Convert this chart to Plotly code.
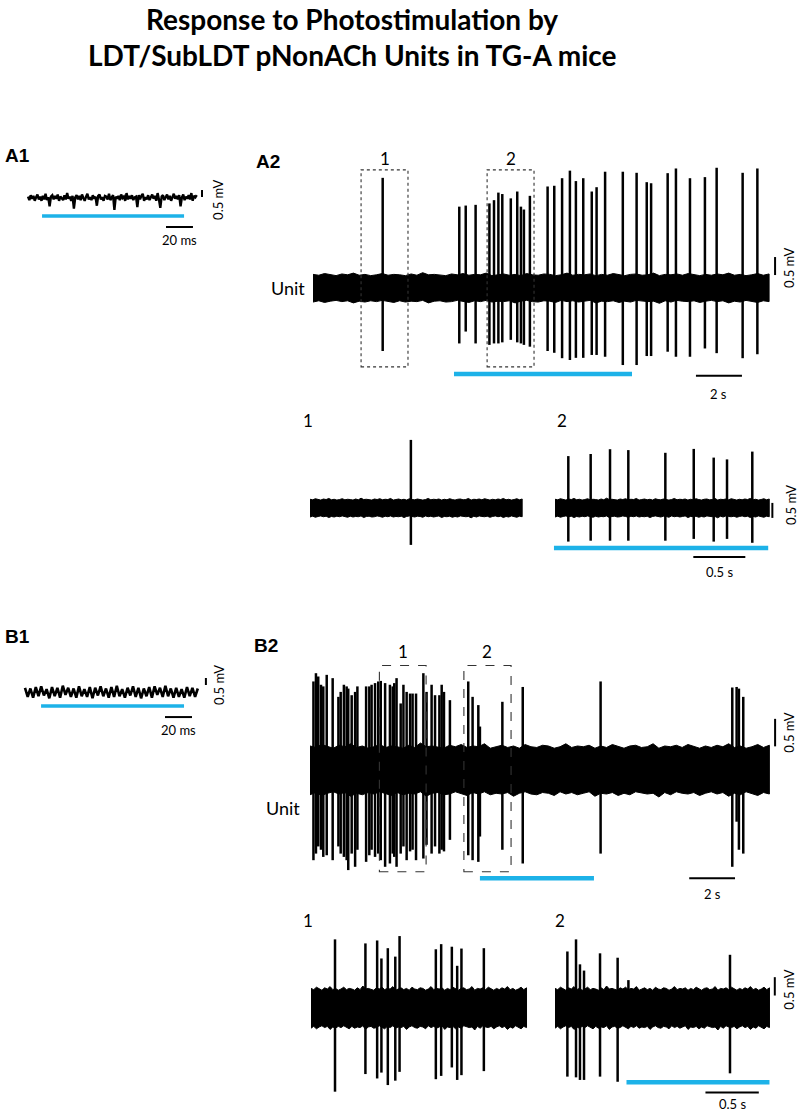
import plotly.graph_objects as go
import numpy as np

W, H = 800, 1114
BLUE = "#1db2e8"
FONT = "Lato"

# ---------------- data ----------------
# A1: short sweep, one sample per ms (mV)
a1_trace = [
    0.10, -0.15, 0.20, -0.05, 0.15, -0.20, 0.05, 0.25, -0.10, 0.10,
    -0.20, 0.15, -0.10, 0.30, -0.15, 0.05, -0.60, 0.10, 0.20, -0.10,
    0.15, -0.05, 0.25, -0.20, 0.10, 0.00, -0.15, 0.20, -0.10, 0.35,
    -0.05, 0.10, -0.20, 0.15, -0.75, 0.05, 0.20, -0.10, 0.15, -0.15,
    0.25, 0.00, -0.20, 0.10, 0.30, -0.10, 0.05, -0.15, 0.20, -0.05,
    0.10, -0.55, 0.15, 0.25, -0.10, 0.05, -0.20, 0.15, 0.10, -0.10,
    0.30, -0.15, 0.05, 0.20, -0.85, 0.10, -0.05, 0.15, -0.15, 0.25,
    0.00, 0.10, -0.20, 0.35, -0.10, 0.15, -0.05, 0.20, -0.15, 0.05,
    0.10, -0.65, 0.20, -0.10, 0.15, 0.30, -0.20, 0.05, -0.10, 0.20,
    -0.15, 0.10, 0.25, -0.05, 0.15, -0.20, 0.35, -0.10, -0.70, 0.10,
    0.20, -0.15, 0.05, 0.25, -0.10, 0.15, -0.20, 0.10, 0.30, -0.05,
    0.15, -0.10, 0.20, -0.60, 0.05, 0.25, -0.15, 0.10, -0.05, 0.20,
    -0.10, 0.35, -0.20, 0.15, 0.05, 0.20]
a1_step = 1.0                     # ms
a1_light = [10.4, 115.6]          # ms

# B1: short sweep, one sample every 2 ms (mV)
b1_trace = [
    0.30, -0.35, 0.25, -0.40, 0.35, -0.30, 0.40, -0.25, 0.20, -0.45,
    0.35, -0.30, 0.30, -0.40, 0.45, -0.20, 0.30, -0.35, 0.25, -0.40,
    0.40, -0.30, 0.20, -0.35, 0.35, -0.45, 0.30, -0.25, 0.40, -0.30,
    0.25, -0.40, 0.35, -0.35, 0.45, -0.30, 0.20, -0.40, 0.30, -0.25,
    0.40, -0.35, 0.30, -0.45, 0.25, -0.30, 0.35, -0.40, 0.40, -0.20,
    0.30, -0.35, 0.45, -0.30, 0.25, -0.40, 0.30, -0.35, 0.20, -0.40,
    0.35, -0.30, 0.30, -0.35, 0.25]
b1_step = 2.0                     # ms
b1_light = [11.9, 117.8]          # ms

# A2: unit recording, 20 s (s / mV)
a2_duration = 19.83
a2_noise = 0.39
a2_spike_t = [3.03, 6.36, 6.64, 7.07, 7.67, 7.87, 8.06, 8.23, 8.60, 8.88,
              9.04, 9.17, 9.43, 10.20, 10.49, 10.83, 11.17, 11.43, 11.75, 12.12,
              12.33, 12.70, 13.47, 14.07, 14.51, 14.70, 15.42, 15.78, 16.39, 17.04,
              17.55, 18.68, 19.32]
a2_spike_up = [3.06, 2.26, 2.29, 2.31, 2.35, 2.44, 2.65, 2.61, 2.49, 2.68,
               2.26, 2.18, 2.56, 2.82, 2.84, 3.05, 3.26, 2.97, 3.05, 2.68,
               2.80, 3.23, 3.23, 3.20, 2.94, 2.91, 3.19, 3.32, 3.05, 3.08,
               3.34, 3.20, 3.32]
a2_spike_down = [-1.75, -1.54, -1.21, -1.54, -1.58, -1.54, -1.54, -1.51, -1.44, -1.51,
                 -1.54, -1.58, -1.63, -1.75, -1.80, -1.95, -2.00, -1.94, -1.94, -1.86,
                 -1.86, -1.91, -2.14, -2.14, -1.89, -1.89, -1.77, -1.91, -1.91, -1.68,
                 -1.81, -1.95, -1.84]
a2_light = [6.13, 13.87]
a2_boxes = [[2.09, 4.13], [7.57, 9.61]]

# A2 expanded windows (2 s each)
a2w1_duration = 2.04
a2w1_spike_t = [0.97]
a2w1_spike_up = [2.27]
a2w1_spike_down = [-1.23]
a2w2_duration = 2.06
a2w2_spike_t = [0.128, 0.343, 0.529, 0.705, 1.061, 1.334, 1.526, 1.654, 1.897]
a2w2_spike_up = [1.73, 1.80, 1.96, 1.93, 1.84, 1.97, 1.68, 1.62, 1.88]
a2w2_spike_down = [-1.12, -1.09, -1.09, -1.09, -1.09, -1.03, -1.12, -1.03, -1.16]
a2w2_light = [-0.01, 2.05]
a2w_noise = 0.30

# B2: unit recording, 20 s
b2_duration = 20.06
b2_noise = 0.45
b2_spike_t = [0.15, 0.26, 0.36, 0.48, 0.58, 0.73, 0.99, 1.24, 1.34, 1.48,
              1.60, 1.67, 1.82, 1.97, 2.07, 2.45, 2.59, 2.69, 2.84, 2.98,
              3.09, 3.28, 3.49, 3.61, 3.68, 3.78, 3.96, 4.08, 4.22, 4.37,
              4.48, 4.63, 4.95, 5.09, 5.31, 5.46, 5.65, 5.75, 5.85, 6.11,
              6.91, 7.10, 7.35, 7.42, 8.40, 9.29, 12.69, 18.44, 18.63, 18.73,
              18.92]
b2_spike_up = [1.61, 1.76, 1.70, 1.55, 1.52, 1.73, 1.67, 1.33, 1.42, 1.55,
               1.52, 1.48, 1.36, 1.42, 1.52, 1.52, 1.52, 1.55, 1.58, 1.61,
               1.62, 1.58, 1.55, 1.52, 1.58, 1.67, 1.21, 1.55, 1.42, 1.39,
               1.39, 1.39, 1.76, 1.42, 1.55, 1.36, 1.36, 1.55, 1.42, 1.27,
               1.61, 1.33, 1.18, 0.79, 1.24, 1.51, 1.61, 1.50, 1.51, 1.48,
               1.33]
b2_spike_down = [-1.64, -1.52, -1.39, -1.45, -1.58, -1.55, -1.64, -1.39, -1.52, -1.58,
                 -1.64, -1.82, -1.52, -1.76, -1.45, -1.67, -1.55, -1.45, -1.58, -1.52,
                 -1.64, -1.76, -1.70, -1.52, -1.58, -1.76, -1.52, -1.39, -1.64, -1.48,
                 -1.45, -1.64, -1.61, -1.36, -1.52, -1.39, -1.52, -1.45, -1.48, -1.27,
                 -1.55, -1.64, -1.67, -1.21, -1.45, -1.70, -1.52, -1.76, -0.94, -1.45,
                 -1.52]
b2_light = [7.42, 12.40]
b2_boxes = [[3.03, 5.07], [6.72, 8.78]]

# B2 expanded windows
b2w1_duration = 2.02
b2w1_spike_t = [0.225, 0.51, 0.62, 0.66, 0.72, 0.79, 0.83, 1.17, 1.22, 1.32, 1.37, 1.41, 1.62]
b2w1_spike_up = [1.87, 1.76, 1.84, 1.35, 1.63, 1.40, 1.96, 1.60, 1.74, 1.67, 1.15, 1.62, 1.63]
b2w1_spike_down = [-2.28, -1.80, -1.92, -1.76, -2.10, -1.98, -1.74, -1.94, -1.85, -1.62, -1.96, -1.83, -1.72]
b2w2_duration = 2.01
b2w2_spike_t = [0.116, 0.197, 0.234, 0.272, 0.422, 0.587, 0.688, 1.64]
b2w2_spike_up = [1.54, 1.87, 1.19, 1.02, 1.49, 1.37, 0.76, 1.45]
b2w2_spike_down = [-1.87, -1.89, -1.96, -1.96, -1.87, -2.01, -0.50, -1.78]
b2w2_light = [0.67, 2.01]
b2w_noise = 0.55

# roughness of the noise-band edges (fraction)
edge_jitter = [0.3, 0.1, 0.5, 0.2, 0.0, 0.4, 0.2, 0.6, 0.1, 0.3, 0.0, 0.2, 0.5, 0.1, 0.3, 0.2,
               0.0, 0.4, 0.1, 0.7, 0.2, 0.3, 0.1, 0.0, 0.4, 0.2, 0.5, 0.1, 0.3, 0.2, 0.6, 0.0,
               0.2, 0.4, 0.1, 0.3, 0.0, 0.5, 0.2, 0.1, 0.4, 0.3, 0.0, 0.2, 0.6, 0.1, 0.3, 0.2,
               0.4, 0.0, 0.3, 0.1, 0.5, 0.2, 0.0, 0.3, 0.4, 0.1, 0.2, 0.6, 0.0, 0.3, 0.2, 0.4,
               0.1, 0.5, 0.2, 0.0, 0.3, 0.1, 0.4, 0.2, 0.6, 0.1, 0.3, 0.0, 0.2, 0.5, 0.1, 0.4]

# ---------------- layout of the panels (pixels) ----------------
# name: left, right, top, bottom, x-origin px, px per x unit, y-origin px, px per mV
panels = {
    "A1":   (0, 250, 130, 260, 28, 1.35, 198, 14.0),
    "A2":   (250, 800, 140, 410, 313, 23.0, 288, 36.0),
    "A2w1": (290, 540, 410, 600, 310, 104.0, 508, 30.0),
    "A2w2": (540, 800, 410, 600, 555, 104.0, 508, 30.0),
    "B1":   (0, 250, 610, 760, 25, 1.35, 692, 14.0),
    "B2":   (250, 800, 620, 910, 310, 22.9, 770, 55.0),
    "B2w1": (290, 540, 905, 1114, 311, 106.7, 1008, 36.7),
    "B2w2": (540, 800, 905, 1114, 555, 106.7, 1008, 36.7),
}

fig = go.Figure()
axis_of = {}
for i, (name, (l, r, t, b, x0, xs, y0, ys)) in enumerate(panels.items(), start=1):
    sfx = "" if i == 1 else str(i)
    axis_of[name] = sfx
    fig.layout[f"xaxis{sfx}"] = dict(domain=[l / W, r / W], range=[(l - x0) / xs, (r - x0) / xs],
                                     visible=False, fixedrange=True, anchor=f"y{sfx}")
    fig.layout[f"yaxis{sfx}"] = dict(domain=[1 - b / H, 1 - t / H], range=[(y0 - b) / ys, (y0 - t) / ys],
                                     visible=False, fixedrange=True, anchor=f"x{sfx}")


def refs(name):
    s = axis_of[name]
    return f"x{s}", f"y{s}"


def line(name, x, y, color="black", width=2.0):
    xr, yr = refs(name)
    fig.add_trace(go.Scatter(x=x, y=y, mode="lines", line=dict(color=color, width=width),
                             xaxis=xr, yaxis=yr, hoverinfo="skip", showlegend=False))


def band(name, duration, half):
    j = np.array(edge_jitter)
    ts = np.linspace(0, duration, len(j))
    top = half * (0.88 + 0.3 * j)
    bot = -half * (0.88 + 0.3 * j[::-1])
    xr, yr = refs(name)
    fig.add_trace(go.Scatter(x=list(ts) + list(ts[::-1]), y=list(top) + list(bot[::-1]),
                             mode="lines", fill="toself", fillcolor="black",
                             line=dict(color="black", width=1), xaxis=xr, yaxis=yr,
                             hoverinfo="skip", showlegend=False))


def spikes(name, ts, ups, downs, width=2.5):
    x, y = [], []
    for t, u, d in zip(ts, ups, downs):
        x += [t, t, None]
        y += [d, u, None]
    line(name, x, y, width=width)


def text(name, x, y, s, size=14, angle=0, family=FONT, weight="normal"):
    xr, yr = refs(name)
    fig.add_annotation(x=x, y=y, xref=xr, yref=yr, text=s, showarrow=False, textangle=angle,
                       xanchor="center", yanchor="middle",
                       font=dict(family=family, size=size, color="black", weight=weight))


def paper_text(px, py, s, size=14, family=FONT, weight="normal", xanchor="center"):
    fig.add_annotation(x=px / W, y=1 - py / H, xref="paper", yref="paper", text=s, showarrow=False,
                       xanchor=xanchor, yanchor="middle",
                       font=dict(family=family, size=size, color="black", weight=weight))


def box(name, t0, t1, y0, y1, dash):
    xr, yr = refs(name)
    fig.add_shape(type="rect", xref=xr, yref=yr, x0=t0, x1=t1, y0=y0, y1=y1,
                  line=dict(color="#333333", width=1.1, dash=dash))


# ---------------- A1 ----------------
line("A1", np.arange(len(a1_trace)) * a1_step, a1_trace, width=2.4)
line("A1", a1_light, [-1.29, -1.29], color=BLUE, width=3.5)
line("A1", [128.9, 128.9], [0.07, 0.57], width=2)
text("A1", 140.7, -0.14, "0.5 mV", size=13, angle=-90)
line("A1", [102.2, 122.2], [-2.07, -2.07], width=2)
text("A1", 112.2, -3.0, "20 ms", size=13)

# ---------------- A2 ----------------
band("A2", a2_duration, a2_noise)
spikes("A2", a2_spike_t, a2_spike_up, a2_spike_down)
for k, (t0, t1) in enumerate(a2_boxes, start=1):
    box("A2", t0, t1, -2.19, 3.28, "dot")
    text("A2", (t0 + t1) / 2, 3.61, str(k), size=17)
line("A2", a2_light, [-2.39, -2.39], color=BLUE, width=4.5)
line("A2", [20.09, 20.09], [0.36, 0.86], width=2)
text("A2", 20.7, 0.56, "0.5 mV", size=13, angle=-90)
line("A2", [16.65, 18.65], [-2.44, -2.44], width=2)
text("A2", 17.65, -2.94, "2 s", size=13)
text("A2", -1.09, 0, "Unit", size=18)

# A2 windows
band("A2w1", a2w1_duration, a2w_noise)
spikes("A2w1", a2w1_spike_t, a2w1_spike_up, a2w1_spike_down)
band("A2w2", a2w2_duration, a2w_noise)
spikes("A2w2", a2w2_spike_t, a2w2_spike_up, a2w2_spike_down)
line("A2w2", a2w2_light, [-1.33, -1.33], color=BLUE, width=4.5)
line("A2w2", [1.33, 1.83], [-1.63, -1.63], width=2)
text("A2w2", 1.58, -2.13, "0.5 s", size=13)
line("A2w2", [2.09, 2.09], [-0.33, 0.17], width=2)
text("A2w2", 2.27, 0.1, "0.5 mV", size=13, angle=-90)
paper_text(308, 420, "1", size=17)
paper_text(562, 420, "2", size=17)

# ---------------- B1 ----------------
line("B1", np.arange(len(b1_trace)) * b1_step, b1_trace, width=2.6)
line("B1", b1_light, [-1.0, -1.0], color=BLUE, width=3.5)
line("B1", [134.0, 134.0], [0.5, 1.0], width=2)
text("B1", 143.7, 0.5, "0.5 mV", size=13, angle=-90)
line("B1", [103.7, 123.7], [-1.79, -1.79], width=2)
text("B1", 113.7, -2.71, "20 ms", size=13)

# ---------------- B2 ----------------
band("B2", b2_duration, b2_noise)
spikes("B2", b2_spike_t, b2_spike_up, b2_spike_down)
for k, (t0, t1) in enumerate(b2_boxes, start=1):
    box("B2", t0, t1, -1.85, 1.90, "dash")
    text("B2", (t0 + t1) / 2, 2.15, str(k), size=17)
line("B2", b2_light, [-1.97, -1.97], color=BLUE, width=4.5)
line("B2", [20.31, 20.31], [0.43, 0.93], width=2)
text("B2", 20.94, 0.67, "0.5 mV", size=13, angle=-90)
line("B2", [16.56, 18.56], [-1.97, -1.97], width=2)
text("B2", 17.56, -2.25, "2 s", size=13)
text("B2", -1.18, -0.69, "Unit", size=18)

# B2 windows
band("B2w1", b2w1_duration, b2w_noise)
spikes("B2w1", b2w1_spike_t, b2w1_spike_up, b2w1_spike_down)
band("B2w2", b2w2_duration, b2w_noise)
spikes("B2w2", b2w2_spike_t, b2w2_spike_up, b2w2_spike_down)
line("B2w2", b2w2_light, [-2.02, -2.02], color=BLUE, width=4.5)
line("B2w2", [1.41, 1.91], [-2.30, -2.30], width=2)
text("B2w2", 1.66, -2.62, "0.5 s", size=13)
line("B2w2", [2.06, 2.06], [0.34, 0.84], width=2)
text("B2w2", 2.19, 0.49, "0.5 mV", size=13, angle=-90)
paper_text(308, 920, "1", size=17)
paper_text(560, 920, "2", size=17)

# ---------------- panel letters and title ----------------
for lab, px, py in [("A1", 3, 155), ("A2", 254, 162), ("B1", 3, 636), ("B2", 252, 645)]:
    paper_text(px, py, lab, size=19, family="Liberation Sans", weight="bold", xanchor="left")

paper_text(352, 19, "Response to Photostimulation by", size=28, weight="bold")
paper_text(352, 55, "LDT/SubLDT pNonACh Units in TG-A mice", size=28, weight="bold")

fig.update_layout(width=W, height=H, margin=dict(l=0, r=0, t=0, b=0),
                  plot_bgcolor="white", paper_bgcolor="white", showlegend=False)

# the page body keeps its default 8 px margin otherwise, which pushes the figure off the window
fig.write_html("out.html", config={"displayModeBar": False},
               post_script="document.body.style.margin='0';")
